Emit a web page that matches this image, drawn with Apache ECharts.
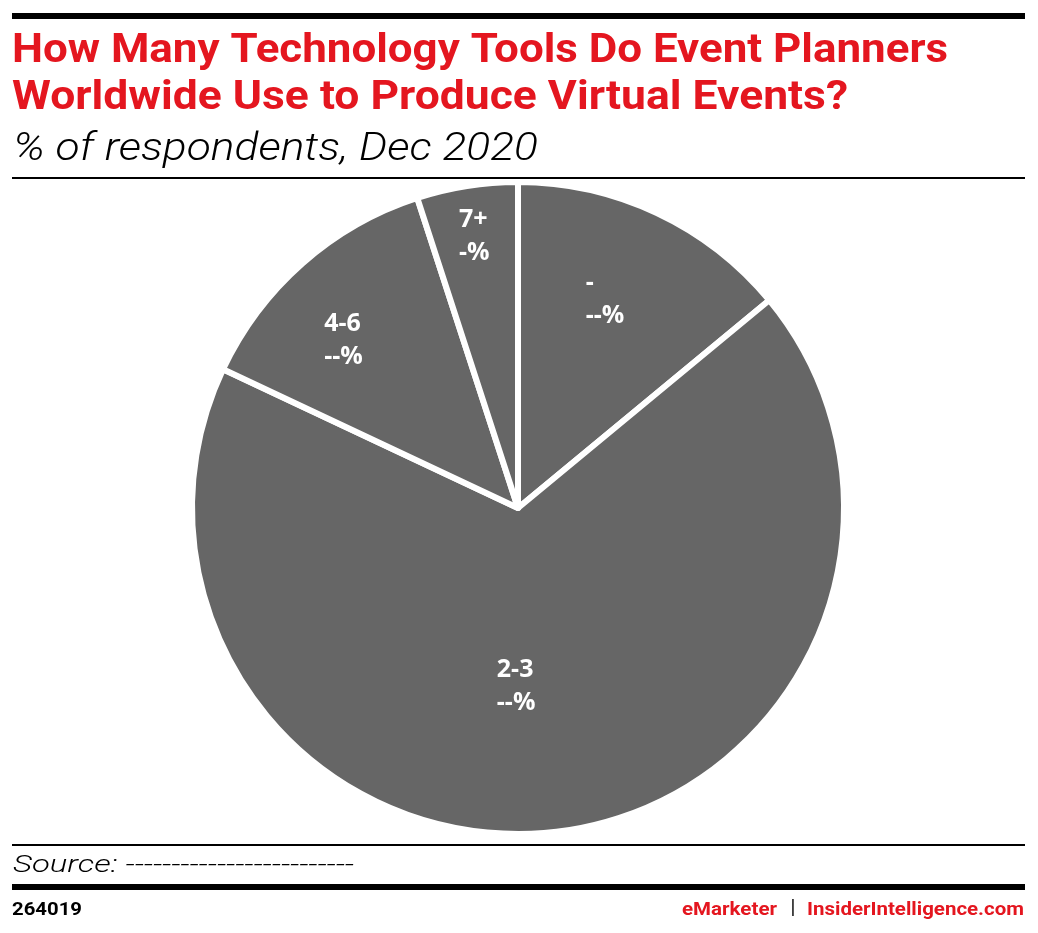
<!DOCTYPE html>
<html>
<head>
<meta charset="utf-8">
<script src="https://cdn.jsdelivr.net/npm/echarts@6/dist/echarts.min.js"></script>
<style>
html,body{margin:0;padding:0;background:#fff;}
#main{width:1038px;height:933px;}
</style>
</head>
<body>
<div id="main"></div>
<script>
// Data
const categories = ['-', '2-3', '4-6', '7+'];
const values = [14, 68, 13, 5];
const valueLabels = ['--%', '--%', '--%', '-%'];

// label layout offsets (style only)
const labelShift = [[-3, -58], [-42, 14], [-84, -43], [-33, -108]];

const RED = '#e4161f';

const measureCtx = document.createElement('canvas').getContext('2d');
function fitScale(text, font, target) {
  measureCtx.font = font;
  const w = measureCtx.measureText(text).width;
  return target / w;
}
function fitText(text, font, x, y, target, fill, align) {
  return {
    type: 'text', x: x, y: y,
    scaleX: fitScale(text, font, target),
    style: {text: text, font: font, fill: fill, align: align || 'left', verticalAlign: 'middle'}
  };
}

const TITLE_FONT = 'bold 40px Roboto';
const SUB_FONT = 'italic 300 38px Roboto';
const SRC_FONT = 'italic 300 24px Roboto';
const FOOT_FONT = 'bold 19px Roboto';

const chart = echarts.init(document.getElementById('main'), null, {renderer: 'canvas'});

const option = {
  backgroundColor: '#ffffff',
  animation: false,
  graphic: [
    {type: 'rect', shape: {x: 12, y: 13, width: 1013, height: 6}, style: {fill: '#000'}},
    {type: 'rect', shape: {x: 12, y: 177, width: 1013, height: 2}, style: {fill: '#000'}},
    {type: 'rect', shape: {x: 12, y: 844, width: 1013, height: 2}, style: {fill: '#000'}},
    {type: 'rect', shape: {x: 12, y: 884, width: 1013, height: 6}, style: {fill: '#000'}},
    fitText('How Many Technology Tools Do Event Planners', TITLE_FONT, 12, 52, 936, RED),
    fitText('Worldwide Use to Produce Virtual Events?', TITLE_FONT, 12, 99, 836, RED),
    fitText('% of respondents, Dec 2020', SUB_FONT, 13, 150, 525, '#000'),
    fitText('Source: -------------------------', SRC_FONT, 13, 866, 341, '#000'),
    fitText('264019', FOOT_FONT, 12, 910, 70, '#000'),
    fitText('eMarketer', FOOT_FONT, 777, 910, 95, RED, 'right'),
    {type: 'text', x: 793, y: 909, style: {text: '|', font: '20px Roboto', fill: '#000', align: 'center', verticalAlign: 'middle'}},
    fitText('InsiderIntelligence.com', FOOT_FONT, 1024, 910, 217, RED, 'right')
  ],
  series: [{
    type: 'pie',
    center: [518, 508],
    radius: [0, 326],
    startAngle: 90,
    clockwise: true,
    silent: true,
    itemStyle: {color: '#666666', borderColor: '#ffffff', borderWidth: 6},
    label: {
      show: true,
      position: 'inside',
      color: '#ffffff',
      fontFamily: '"Open Sans", Roboto, sans-serif',
      fontWeight: 700,
      fontSize: 25,
      lineHeight: 33,
      formatter: function (p) { return categories[p.dataIndex] + '\n' + valueLabels[p.dataIndex]; }
    },
    labelLine: {show: false},
    labelLayout: function (p) {
      const s = labelShift[p.dataIndex];
      return {dx: s[0], dy: s[1], align: 'left'};
    },
    data: categories.map((c, i) => ({name: c, value: values[i]}))
  }]
};
chart.setOption(option);
</script>
</body>
</html>
